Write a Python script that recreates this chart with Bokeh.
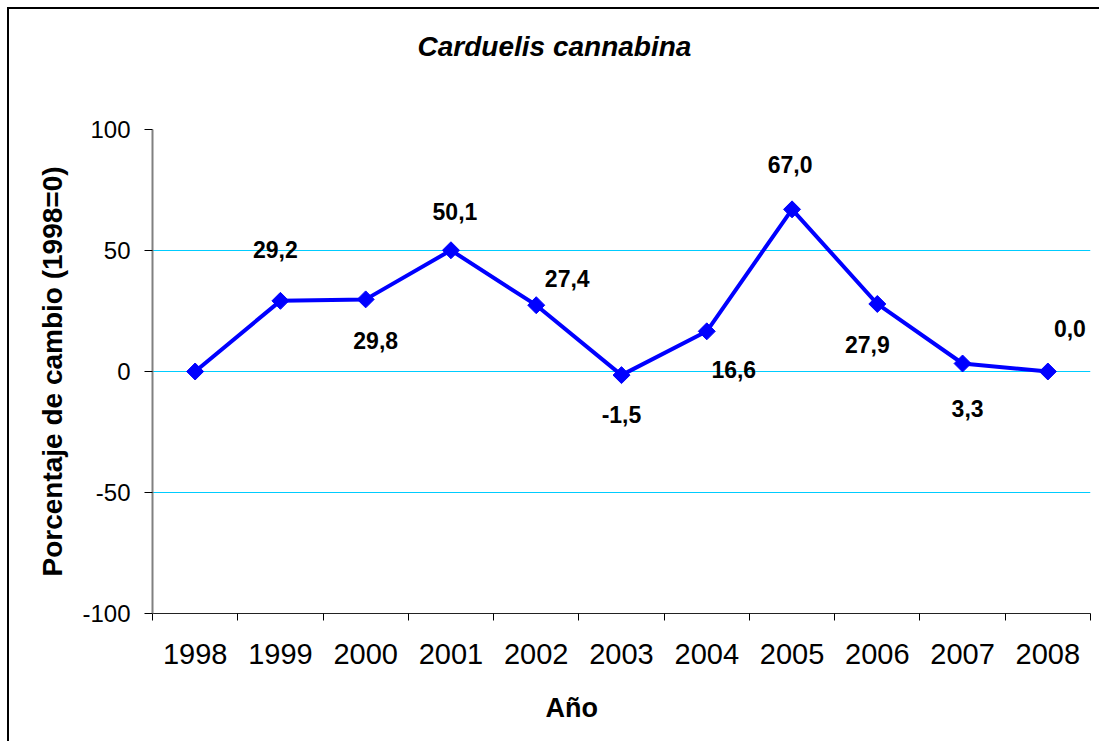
from bokeh.plotting import figure
from bokeh.models import ColumnDataSource, Range1d, FixedTicker, LabelSet, Title
from bokeh.core.properties import value
from bokeh.embed import file_html
from bokeh.resources import INLINE

# ---- data ----
years = ["1998", "1999", "2000", "2001", "2002", "2003", "2004", "2005", "2006", "2007", "2008"]
values = [0.0, 29.2, 29.8, 50.1, 27.4, -1.5, 16.6, 67.0, 27.9, 3.3, 0.0]
y_ticks = [-100, -50, 0, 50, 100]
y_tick_labels = ["-100", "-50", "0", "50", "100"]
title_text = "Carduelis cannabina"
x_title = "Año"
y_title = "Porcentaje de cambio (1998=0)"

# label placement (pixels, styling only)
label_dx = [0, -5, 10, 4, 31, 0, 27, -2, -10, 5, 22]
label_dy = [0, 51, -41, 39, 27, -39, -38, 45, -41, -45, 43]

FONT = "Liberation Sans"

xs = [i + 0.5 for i in range(len(years))]
src = ColumnDataSource(dict(x=xs, y=values))
lab_src = ColumnDataSource(dict(
    x=xs[1:], y=values[1:],
    text=[f"{v:.1f}".replace(".", ",") for v in values[1:]],
    dx=label_dx[1:], dy=label_dy[1:],
))

p = figure(output_backend="svg", toolbar_location=None,
           x_range=Range1d(0, len(years)), y_range=Range1d(-100, 100),
           min_border_left=143, min_border_right=11, min_border_top=120,
           min_border_bottom=130, frame_width=938, frame_height=484)
p.styles = {"margin-left": "9px", "margin-top": "9px", "outline": "none",
            "box-shadow": "-2px -2px 0px 0px #000000"}
p.stylesheets = [":host, :host * { outline: none !important; border: none !important; }"]
p.outline_line_color = None
p.background_fill_color = "white"
p.border_fill_color = "white"

# spacer between frame and title (keeps title near the top edge)
p.add_layout(Title(text=" ", text_font_size="2px", standoff=42), "above")

# title
p.title.text = title_text
p.title.align = "left"
p.title.offset = 265
p.title.vertical_align = "top"
p.title.standoff = 39
p.title.text_font = FONT
p.title.text_font_size = "28px"
p.title.text_font_style = "bold italic"
p.title.text_color = "black"

# grid
p.xgrid.visible = False
p.ygrid.ticker = FixedTicker(ticks=y_ticks)
p.ygrid.grid_line_color = "#00CCFF"
p.ygrid.grid_line_width = 1

# x axis
xa = p.xaxis[0]
xa.ticker = FixedTicker(ticks=xs, minor_ticks=list(range(len(years) + 1)))
xa.major_label_overrides = {x: y for x, y in zip(xs, years)}
xa.major_tick_line_color = None
xa.minor_tick_in = 0
xa.minor_tick_out = 7
xa.minor_tick_line_color = "#000000"
xa.axis_line_color = "#222222"
xa.major_label_text_font = FONT
xa.major_label_text_font_size = "29px"
xa.major_label_text_color = "black"
xa.major_label_standoff = 23

# spacer + x axis title (placed under the axis)
p.add_layout(Title(text=" ", text_font_size="2px", standoff=20), "below")
p.add_layout(Title(text=x_title, align="left", offset=393, vertical_align="top",
                   standoff=4, text_font=FONT, text_font_size="27px",
                   text_font_style="bold", text_color="black"), "below")

# y axis
ya = p.yaxis[0]
ya.ticker = FixedTicker(ticks=y_ticks)
ya.major_label_overrides = {t: s for t, s in zip(y_ticks, y_tick_labels)}
ya.minor_tick_line_color = None
ya.major_tick_in = 0
ya.major_tick_out = 8
ya.major_tick_line_color = "#000000"
ya.axis_line_color = "#808080"
ya.axis_line_width = 2
ya.major_label_text_font = FONT
ya.major_label_text_font_size = "24px"
ya.major_label_text_color = "black"
ya.major_label_standoff = 14
ya.axis_label = y_title
ya.axis_label_text_font = FONT
ya.axis_label_text_font_size = "28px"
ya.axis_label_text_font_style = "bold"
ya.axis_label_text_color = "black"
ya.axis_label_standoff = 11

# series
p.line("x", "y", source=src, line_color="#0000FF", line_width=4)
p.scatter("x", "y", source=src, marker="square", size=12, angle=0.785398,
          fill_color="#0000FF", line_color="#0000FF")

labels = LabelSet(x="x", y="y", text="text", source=lab_src,
                  x_offset="dx", y_offset="dy",
                  text_font=value(FONT), text_font_size=value("23px"),
                  text_font_style=value("bold"), text_color="black",
                  text_align="center", text_baseline="middle")
p.add_layout(labels)

open("out.html", "w").write(file_html(p, INLINE))
